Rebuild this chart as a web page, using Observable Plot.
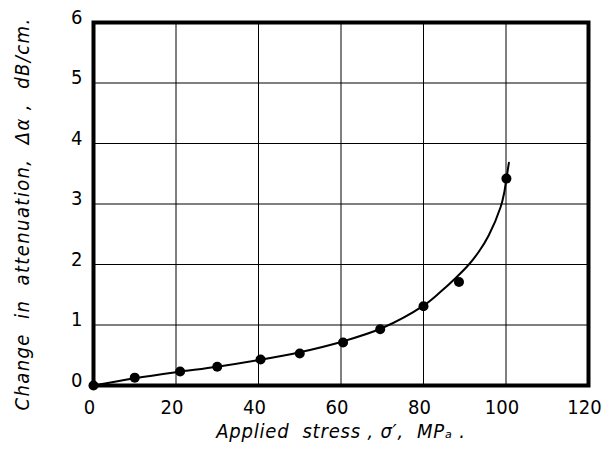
<!DOCTYPE html>
<html>
<head>
<meta charset="utf-8">
<script src="https://cdn.jsdelivr.net/npm/d3@7"></script>
<script src="https://cdn.jsdelivr.net/npm/@observablehq/plot@0.6"></script>
<style>
  html, body { margin: 0; padding: 0; background: #fff; }
  #chart svg { display: block; }
  #chart text { white-space: pre; }
</style>
</head>
<body>
<div id="chart"></div>
<script>
// Measured points: applied stress (MPa) vs change in attenuation (dB/cm)
const stress      = [0, 10, 21, 30, 40.5, 50, 60.5, 69.5, 80, 88.6, 100.1];
const attenuation = [0, 0.13, 0.23, 0.31, 0.43, 0.53, 0.71, 0.93, 1.31, 1.71, 3.42];

// Fitted curve drawn through the points
const curveX = [0, 10, 20, 30, 40, 50, 60, 70, 80, 84, 88, 91, 93.4, 95.8, 98.7, 99.6, 100.1, 100.7];
const curveY = [0, 0.12, 0.22, 0.31, 0.42, 0.55, 0.72, 0.95, 1.32, 1.54, 1.79, 2.0, 2.21, 2.48, 2.95, 3.2, 3.42, 3.68];

const xTicks = [0, 20, 40, 60, 80, 100, 120];
const yTicks = [0, 1, 2, 3, 4, 5, 6];

const xTitle = "Applied  stress , σ′,  MPₐ .";
const yTitle = "Change  in  attenuation,  Δα ,  dB/cm.";

const points = stress.map((s, i) => ({x: s, y: attenuation[i]}));
const curve = curveX.map((s, i) => ({x: s, y: curveY[i]}));

const font = "'DejaVu Sans Condensed', 'DejaVu Sans', sans-serif";

const chart = Plot.plot({
  width: 604,
  height: 456,
  marginLeft: 93,
  marginRight: 16,
  marginTop: 22,
  marginBottom: 71,
  style: {fontFamily: font, fontSize: "20px", background: "#fff", color: "#000"},
  x: {domain: [0, 120]},
  y: {domain: [0, 6]},
  marks: [
    Plot.ruleX(xTicks, {stroke: "#000", strokeWidth: 1}),
    Plot.ruleY(yTicks, {stroke: "#000", strokeWidth: 1}),
    Plot.line(curve, {x: "x", y: "y", curve: "catmull-rom", stroke: "#000", strokeWidth: 2}),
    Plot.dot(points, {x: "x", y: "y", r: 5, fill: "#000", stroke: "none"}),
    Plot.frame({stroke: "#000", strokeWidth: 4}),
    Plot.axisX(xTicks, {tickSize: 0, tickPadding: 14, fontSize: 20, dx: -4, label: null, fill: "#000", tickFormat: d => String(d)}),
    Plot.axisY(yTicks, {tickSize: 0, tickPadding: 11, fontSize: 20, label: null, dy: -5, fill: "#000", tickFormat: d => String(d)}),
    Plot.text([xTitle], {text: d => d, frameAnchor: "bottom", textAnchor: "middle", dy: 52, fontSize: 20, fontStyle: "italic", fill: "#000"}),
    Plot.text([yTitle], {text: d => d, frameAnchor: "left", textAnchor: "middle", dx: -71, dy: 10, rotate: -90, fontSize: 20, fontStyle: "italic", fill: "#000"})
  ]
});

d3.select(chart).selectAll("text").each(function () {
  if (this.textContent === yTitle) this.setAttribute("letter-spacing", "1.4");
  if (this.textContent === xTitle) this.setAttribute("letter-spacing", "0.8");
});

document.getElementById("chart").appendChild(chart);
</script>
</body>
</html>
